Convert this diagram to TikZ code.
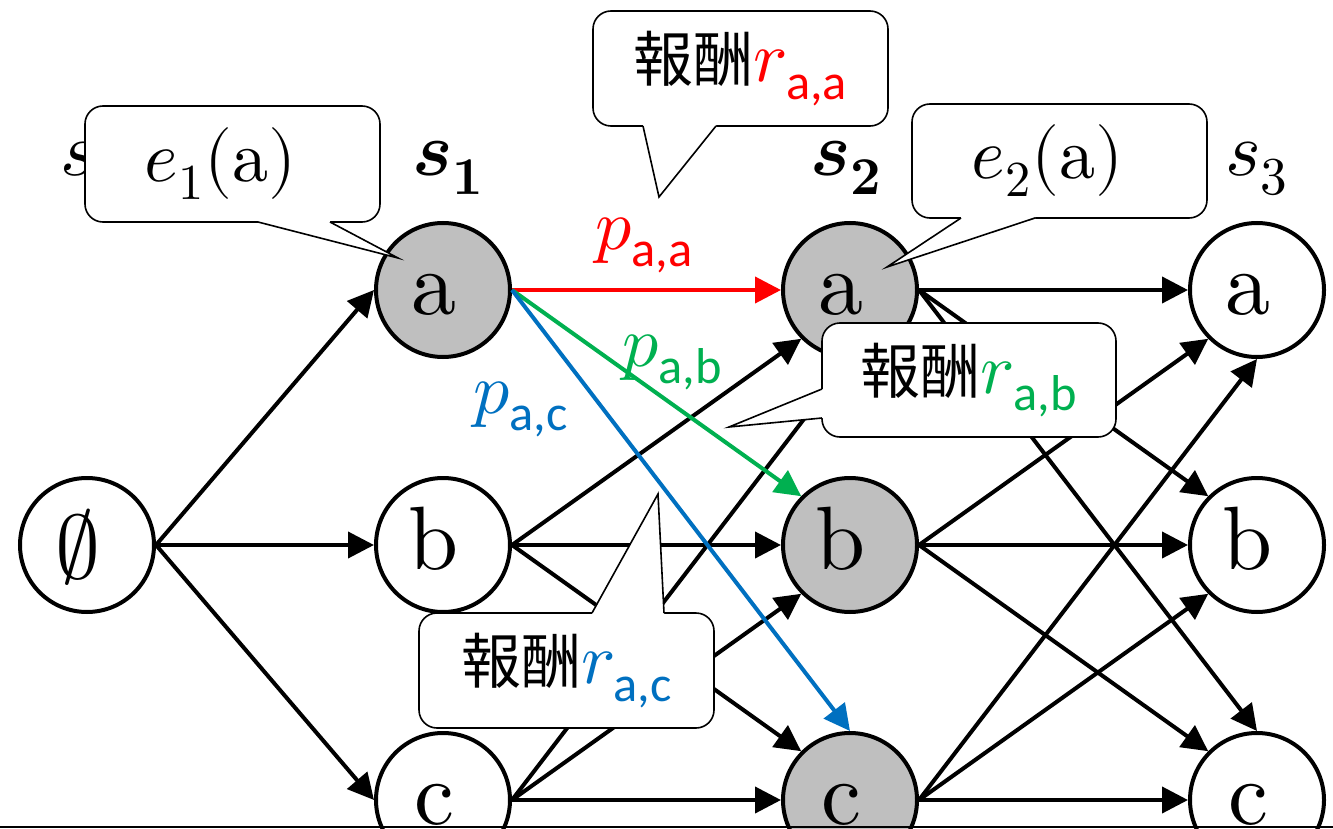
\documentclass[tikz,border=0pt]{standalone}
\usepackage{amsmath}
\usepackage{fontspec}
\usepackage{unicode-math}
\newfontfamily\cjkfont{Noto Sans CJK JP}
\newfontfamily\carlfont{Carlito}
\usetikzlibrary{arrows.meta,calc}
\definecolor{pred}{HTML}{FF0000}
\definecolor{pgreen}{HTML}{00B050}
\definecolor{pblue}{HTML}{0070C0}
\definecolor{gfill}{HTML}{BFBFBF}
\newcommand{\subtx}[1]{\text{\carlfont #1}}
\newcommand{\hou}{{\cjkfont\fontsize{60}{60}\selectfont 報酬}}
\newcommand{\lett}[1]{$\symup{#1}$\hspace*{18pt}}
\begin{document}
\begin{tikzpicture}[x=1pt,y=-1pt,
  state/.style={circle,draw,line width=4pt,minimum size=134pt,inner sep=0pt,fill=white,
    font=\fontsize{90}{90}\selectfont,text height=48pt,text depth=0pt},
  visited/.style={state,fill=gfill},
  edge/.style={line width=4pt,-{Triangle[length=26pt,width=26pt]}},
  lbl/.style={anchor=base west,inner sep=0pt,font=\fontsize{76}{80}\selectfont},
  plbl/.style={anchor=base west,inner sep=0pt,font=\fontsize{72}{80}\selectfont},
  callout/.style={draw,line width=1.6pt,rounded corners=18pt,fill=white,inner sep=0pt,
    font=\fontsize{72}{80}\selectfont},
  wedge/.style={line width=1.6pt}
]
\clip (0,0) rectangle (1333,829);
\useasboundingbox (0,0) rectangle (1333,829);

% nodes
\node[state,text height=66pt] (n0) at (87,545) {$\emptyset$\hspace*{18pt}};
\node[visited] (a1) at (443,290) {\lett{a}};
\node[state] (b1) at (443,545) {\lett{b}};
\node[state] (c1) at (443,800) {\lett{c}};
\node[visited] (a2) at (850,290) {\lett{a}};
\node[visited] (b2) at (850,545) {\lett{b}};
\node[visited] (c2) at (850,800) {\lett{c}};
\node[state] (a3) at (1257,290) {\lett{a}};
\node[state] (b3) at (1257,545) {\lett{b}};
\node[state] (c3) at (1257,800) {\lett{c}};

% edges
\draw[edge] (n0.east) -- (a1.west);
\draw[edge] (n0.east) -- (b1.west);
\draw[edge] (n0.east) -- (c1.west);

\draw[edge] (b1.east) -- (a2.south west);
\draw[edge] (b1.east) -- (b2.west);
\draw[edge] (b1.east) -- (c2.north west);
\draw[edge] (c1.east) -- (a2.south);
\draw[edge] (c1.east) -- (b2.south west);
\draw[edge] (c1.east) -- (c2.west);

\draw[edge] (a2.east) -- (a3.west);
\draw[edge] (a2.east) -- (b3.north west);
\draw[edge] (a2.east) -- (c3.north);
\draw[edge] (b2.east) -- (a3.south west);
\draw[edge] (b2.east) -- (b3.west);
\draw[edge] (b2.east) -- (c3.north west);
\draw[edge] (c2.east) -- (a3.south);
\draw[edge] (c2.east) -- (b3.south west);
\draw[edge] (c2.east) -- (c3.west);

\draw[edge,pred] (a1.east) -- (a2.west);
\draw[edge,pgreen] (a1.east) -- (b2.north west);
\draw[edge,pblue] (a1.east) -- (c2.north);

% edge labels
\node[plbl,text=pred] (paa) at (595,249) {$p_{\subtx{a,a}}$};
\node[plbl,text=pgreen] (pab) at (622,366) {$p_{\subtx{a,b}}$};
\node[plbl,text=pblue] (pac) at (473,413) {$p_{\subtx{a,c}}$};

% stage labels
\node[lbl] (s0) at (60,176) {$s_{0}$};
\node[lbl] (s1) at (412,176) {$\symbfit{s}_{\symbf{1}}$};
\node[lbl] (s2) at (810,176) {$\symbfit{s}_{\symbf{2}}$};
\node[lbl] (s3) at (1225,176) {$s_{3}$};

% callouts
\node[callout,minimum width=295pt,minimum height=116pt] (ce1) at (232.5,164) {$e_1(\symup{a})$\hspace*{23pt}};
\fill[white] (258,218) -- (258,223) -- (398,258) -- (330,223) -- (330,218) -- cycle;
\draw[wedge] (258,222) -- (398,258) -- (330,222);

\node[callout,minimum width=295pt,minimum height=115pt] (craa) at (740.5,68.5) {\hou\textcolor{pred}{$r_{\subtx{a,a}}$}};
\fill[white] (643,122) -- (643,127) -- (659,197) -- (716,127) -- (716,122) -- cycle;
\draw[wedge] (643,126) -- (659,197) -- (716,126);

\node[callout,minimum width=295pt,minimum height=114pt] (ce2) at (1059.5,161) {$e_2(\symup{a})$\hspace*{23pt}};
\fill[white] (961,214) -- (961,219) -- (887,267) -- (1035,219) -- (1035,214) -- cycle;
\draw[wedge] (961,218) -- (887,267) -- (1035,218);

\node[callout,minimum width=294pt,minimum height=114pt] (crab) at (969,380) {\hou\textcolor{pgreen}{$r_{\subtx{a,b}}$}};
\fill[white] (826,389) -- (821,389) -- (729,427) -- (821,418) -- (826,418) -- cycle;
\draw[wedge] (822,389) -- (729,427) -- (822,418);

\node[callout,minimum width=295pt,minimum height=115pt] (crac) at (566.5,670.5) {\hou\textcolor{pblue}{$r_{\subtx{a,c}}$}};
\fill[white] (592,617) -- (592,612) -- (658,494) -- (664,612) -- (664,617) -- cycle;
\draw[wedge] (592,613) -- (658,494) -- (664,613);

% bottom frame line
\draw[line width=2pt] (0,827) -- (1333,827);
\end{tikzpicture}
\end{document}
